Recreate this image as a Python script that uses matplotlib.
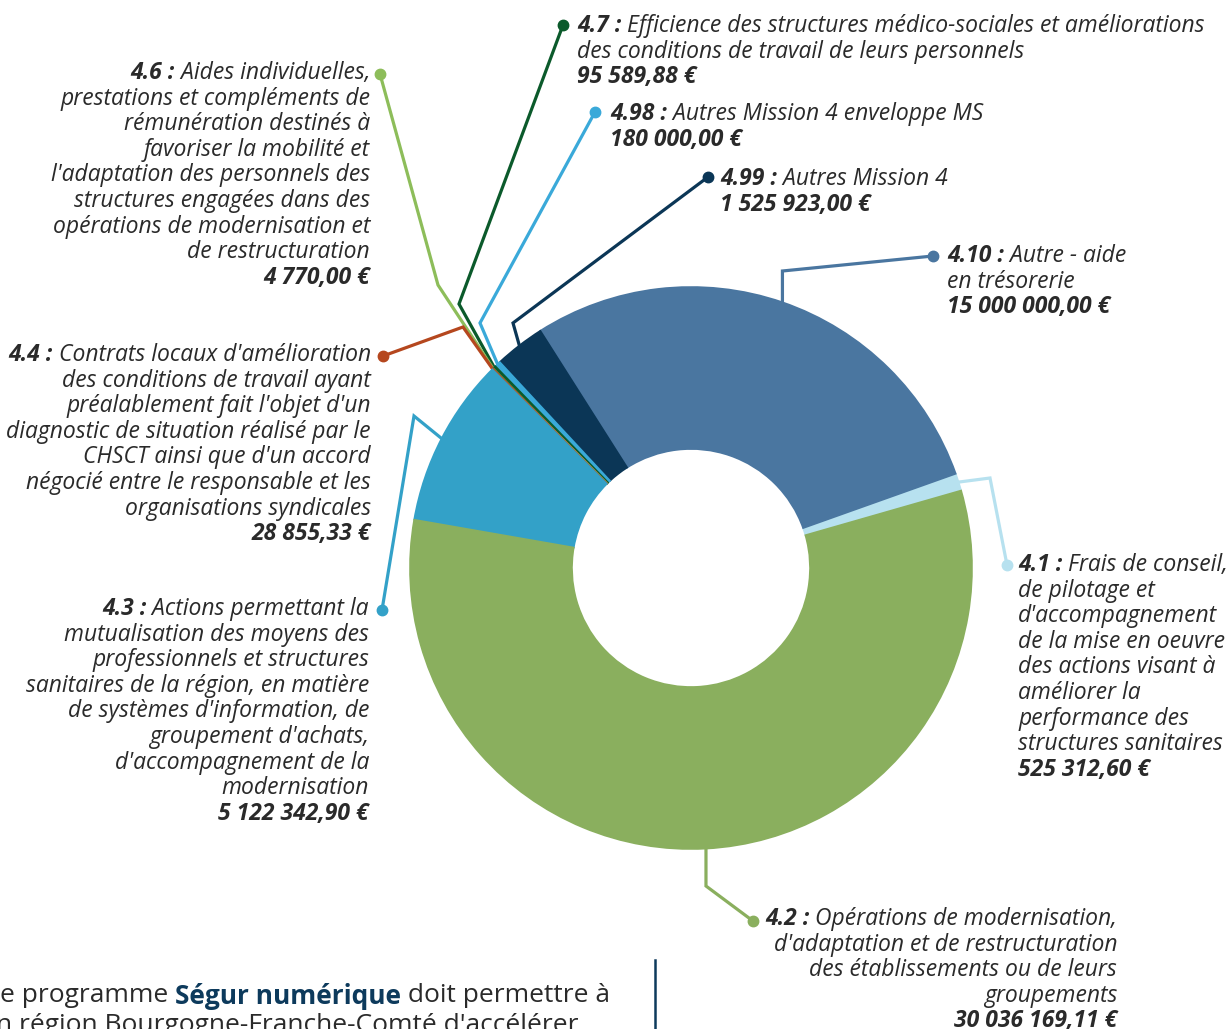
import matplotlib
matplotlib.use("Agg")
import matplotlib.pyplot as plt
import numpy as np

W, H = 1226, 1029

# ---------------- data ----------------
codes = ["4.1", "4.10", "4.99", "4.98", "4.7", "4.6", "4.4", "4.3", "4.2"]
values = [525312.60, 15000000.00, 1525923.00, 180000.00, 95589.88,
          4770.00, 28855.33, 5122342.90, 30036169.11]
descriptions = [
    "Frais de conseil,\nde pilotage et\nd'accompagnement\nde la mise en oeuvre\ndes actions visant à\naméliorer la\nperformance des\nstructures sanitaires",
    "Autre - aide\nen trésorerie",
    "Autres Mission 4",
    "Autres Mission 4 enveloppe MS",
    "Efficience des structures médico-sociales et améliorations\ndes conditions de travail de leurs personnels",
    "Aides individuelles,\nprestations et compléments de\nrémunération destinés à\nfavoriser la mobilité et\nl'adaptation des personnels des\nstructures engagées dans des\nopérations de modernisation et\nde restructuration",
    "Contrats locaux d'amélioration\ndes conditions de travail ayant\npréalablement fait l'objet d'un\ndiagnostic de situation réalisé par le\nCHSCT ainsi que d'un accord\nnégocié entre le responsable et les\norganisations syndicales",
    "Actions permettant la\nmutualisation des moyens des\nprofessionnels et structures\nsanitaires de la région, en matière\nde systèmes d'information, de\ngroupement d'achats,\nd'accompagnement de la\nmodernisation",
    "Opérations de modernisation,\nd'adaptation et de restructuration\ndes établissements ou de leurs\ngroupements",
]
colors = ["#b7e1ef", "#4a76a0", "#0b3656", "#3aa9d9", "#0b5a2b",
          "#8dbd5a", "#b5471e", "#33a1c8", "#8aaf5e"]

body_line1 = ["e programme ", "Ségur numérique", " doit permettre à"]
body_line2 = "n région Bourgogne-Franche-Comté d'accélérer"

# ---------------- layout (pixel coords, y downward) ----------------
CX, CY, R_OUT, R_IN = 691, 568, 281, 119
START = 16
layout = {
    "4.1":  dict(dot=(1007, 565), bends=[(990, 478)], tx=1018, ty=565, ha="left"),
    "4.10": dict(dot=(933, 256), bends=[(None, 271)], tx=947, ty=256, ha="left"),
    "4.99": dict(dot=(708, 177), bends=[(513, 323)], tx=720, ty=179, ha="left"),
    "4.98": dict(dot=(595, 112), bends=[(480, 323)], tx=610, ty=114, ha="left"),
    "4.7":  dict(dot=(563, 25), bends=[(459, 304)], tx=577, ty=26, ha="left"),
    "4.6":  dict(dot=(380, 74), bends=[(438, 285)], tx=370, ty=73, ha="right"),
    "4.4":  dict(dot=(383, 356), bends=[(463, 327)], tx=371, ty=355, ha="right"),
    "4.3":  dict(dot=(382, 610), bends=[(414, 416)], tx=369, ty=609, ha="right"),
    "4.2":  dict(dot=(753, 921), bends=[(None, 886)], tx=1117, ty=919, ha="right"),
}
LH = 25.6
FAM = "Open Sans"
TXT = "#2a2a2a"
REF_LABEL_W = 628   # width of first 4.7 line in reference
REF_BODY_W = 600    # width of first body line in reference


def Y(py):
    return H - py


def fmt_eur(v):
    s = f"{v:,.2f}".replace(",", " ").replace(".", ",")
    return s + " €"


fig = plt.figure(figsize=(W / 100, H / 100), dpi=100)
ax = fig.add_axes([0, 0, 1, 1])

wedges, _ = ax.pie(values, colors=colors, startangle=START, counterclock=True,
                   radius=R_OUT, center=(CX, Y(CY)),
                   wedgeprops=dict(width=R_OUT - R_IN, linewidth=1.2, zorder=3),
                   frame=False)
for w, c in zip(wedges, colors):
    w.set_edgecolor(c)

ax.set_xlim(0, W)
ax.set_ylim(0, H)
ax.set_aspect("equal")
ax.axis("off")

fig.canvas.draw()
renderer = fig.canvas.get_renderer()


def width_of(t):
    fig.canvas.draw()
    return t.get_window_extent(renderer=renderer).width


# fit font size
probe = ax.text(0, 0, "4.7 : " + descriptions[4].split("\n")[0], fontsize=14,
                family=FAM, style="italic")
FS = 14 * REF_LABEL_W / width_of(probe)
probe.remove()
probe = ax.text(0, 0, "".join(body_line1), fontsize=14, family=FAM)
BFS = 14 * REF_BODY_W / width_of(probe)
probe.remove()

for code, val, desc, col, w in zip(codes, values, descriptions, colors, wedges):
    L = layout[code]
    mid = np.deg2rad((w.theta1 + w.theta2) / 2)
    ax_x = CX + R_OUT * np.cos(mid)
    ax_y = Y(CY) + R_OUT * np.sin(mid)
    pts = [(L["dot"][0], Y(L["dot"][1]))]
    for bx, by in L["bends"]:
        pts.append((ax_x if bx is None else bx, Y(by)))
    pts.append((ax_x, ax_y))
    xs, ys = zip(*pts)
    ax.plot(xs, ys, color=col, lw=2.3, zorder=2, solid_joinstyle="miter")
    ax.plot([pts[0][0]], [pts[0][1]], "o", color=col, ms=7.5, zorder=2)

    lines = desc.split("\n")
    x = L["tx"]
    y0 = L["ty"]
    prefix = f"{code} :"
    kw = dict(fontsize=FS, family=FAM, color=TXT, va="center")
    if L["ha"] == "left":
        t = ax.text(x, Y(y0), prefix, fontweight="bold", style="italic", ha="left", **kw)
        wp = width_of(t)
        ax.text(x + wp, Y(y0), " " + lines[0], style="italic", ha="left", **kw)
    else:
        t = ax.text(x, Y(y0), " " + lines[0], style="italic", ha="right", **kw)
        wr = width_of(t)
        ax.text(x - wr, Y(y0), prefix, fontweight="bold", style="italic", ha="right", **kw)
    for i, ln in enumerate(lines[1:], start=1):
        ax.text(x, Y(y0 + i * LH), ln, style="italic", ha=L["ha"], **kw)
    ax.text(x, Y(y0 + len(lines) * LH), fmt_eur(val), style="italic",
            fontweight="bold", ha=L["ha"], **kw)

# ---------------- body text at bottom ----------------
bx = 0
by = Y(996)
parts_style = [("normal", TXT), ("bold", "#0d3a5c"), ("normal", TXT)]
for txt, (wt, c) in zip(body_line1, parts_style):
    t = ax.text(bx, by, txt, fontsize=BFS, family=FAM, fontweight=wt, color=c,
                ha="left", va="center")
    bx += width_of(t)
ax.text(-4, Y(1026), body_line2, fontsize=BFS, family=FAM, color=TXT,
        ha="left", va="center")
ax.plot([655, 655], [Y(960), Y(1029)], color="#0d3a5c", lw=1.8)

fig.savefig("out.png", dpi=100)
